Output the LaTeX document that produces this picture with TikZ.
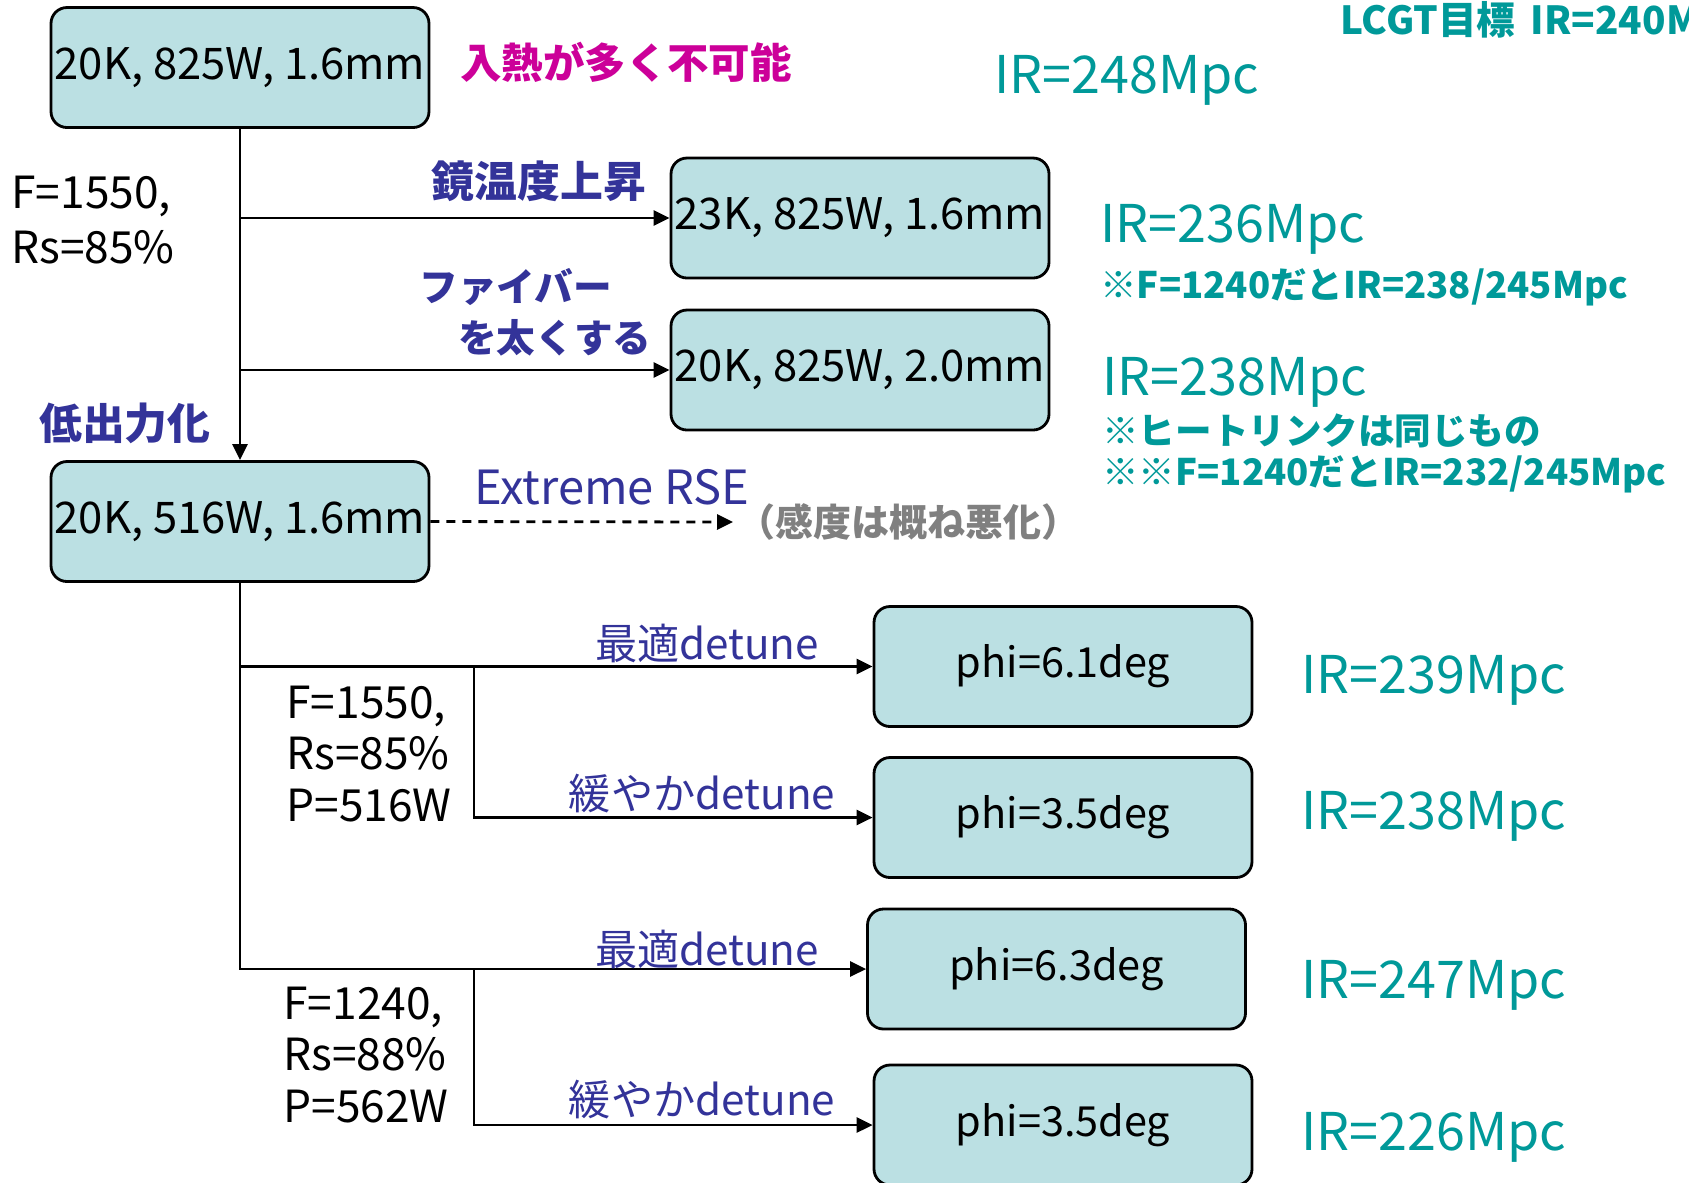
\documentclass[tikz,border=0pt]{standalone}
\usepackage{fontspec}
\setmainfont{Noto Sans CJK JP}
\usetikzlibrary{arrows.meta}

\definecolor{boxfill}{RGB}{187,224,227}
\definecolor{irteal}{RGB}{0,153,153}
\definecolor{stepblue}{RGB}{51,51,153}
\definecolor{warnpink}{RGB}{204,0,153}
\definecolor{worsegray}{RGB}{128,128,128}

\def\boxw{3.78cm}
\def\boxh{1.2cm}
\def\splitx{4.74}

\begin{document}
\begin{tikzpicture}[->,>={Triangle[length=1.6mm,width=1.5mm]},line width=0.8pt]
    \tikzstyle{box}=[draw,fill=boxfill,rounded corners=1.6mm,minimum width=\boxw,minimum height=\boxh,inner sep=0pt,font=\fontsize{12.4}{15}\selectfont]
    \tikzstyle{phibox}=[box,font=\fontsize{11.8}{14}\selectfont]
    \tikzstyle{param}=[inner sep=0pt,align=left,font=\fontsize{12.6}{14.6}\selectfont]
    \tikzstyle{how}=[inner sep=0pt,text=stepblue,font=\fontsize{12}{15}\selectfont]
    \tikzstyle{result}=[inner sep=0pt,anchor=west,yshift=-0.5mm,text=irteal,font=\fontsize{14.8}{18}\selectfont]
    \tikzstyle{remark}=[inner sep=0pt,anchor=west,text=irteal,font=\bfseries\fontsize{10.4}{13}\selectfont]

    \useasboundingbox (0,0) rectangle (16.89,-11.82);

    % Draw the boxes
    \foreach \name/\x/\y/\txt in {1/2.40/-0.675/{20K, 825W, 1.6mm},
                                  2/8.60/-2.18/{23K, 825W, 1.6mm},
                                  3/8.60/-3.70/{20K, 825W, 2.0mm},
                                  4/2.40/-5.215/{20K, 516W, 1.6mm}}
        \node[box] (B-\name) at (\x,\y) {\txt};

    \foreach \name/\x/\y/\txt in {5/10.63/-6.665/phi=6.1deg,
                                  6/10.63/-8.175/phi=3.5deg,
                                  7/10.565/-9.69/phi=6.3deg,
                                  8/10.63/-11.25/phi=3.5deg}
        \node[phibox] (B-\name) at (\x,\y) {\txt};

    % Split points of the detune branches
    \coordinate (S-1) at (\splitx,-6.665);
    \coordinate (S-2) at (\splitx,-9.69);

    % Connect the boxes
    \draw (B-1.south) -- (B-4.north);
    \draw (B-1.south |- B-2.west) -- (B-2.west);
    \draw (B-1.south |- B-3.west) -- (B-3.west);

    \draw (B-4.south) |- (B-7.west);
    \draw (B-4.south |- B-5.west) -- (B-5.west);
    \draw (S-1) |- (B-6.west);
    \draw (S-2) |- (B-8.west);

    % Extreme RSE
    \node[inner sep=1pt,anchor=west,text=worsegray,font=\bfseries\fontsize{10.8}{13}\selectfont] (worse) at (7.33,-5.22) {（感度は概ね悪化）};
    \draw[dash pattern=on 0.9mm off 0.7mm] (B-4.east) -- (worse.west);
    \node[how,font=\fontsize{13.4}{16}\selectfont] (rse) at (6.12,-4.87) {Extreme RSE};

    % Annotate the steps
    \node[inner sep=0pt,text=warnpink,font=\bfseries\fontsize{11.8}{15}\selectfont] (heat) at (6.26,-0.62) {入熱が多く不可能};
    \node[how,font=\bfseries\fontsize{12.2}{15}\selectfont] (mirror) at (5.39,-1.81) {鏡温度上昇};
    \node[how,anchor=west,align=left,font=\bfseries\fontsize{11}{14.5}\selectfont] (fiber) at (4.18,-3.12) {ファイバー\\\hspace*{1em}を太くする};
    \node[how,font=\bfseries\fontsize{12.2}{15}\selectfont] (power) at (1.25,-4.23) {低出力化};

    \node[how] (opt-1) at (7.07,-6.43) {最適detune};
    \node[how] (soft-1) at (7.02,-7.94) {緩やかdetune};
    \node[how] (opt-2) at (7.07,-9.49) {最適detune};
    \node[how] (soft-2) at (7.02,-11.00) {緩やかdetune};

    % Parameters
    \node[param,anchor=west] (par-0) at (0.10,-2.20) {F=1550,\\[1pt]Rs=85\%};
    \node[param,anchor=west] (par-1) at (2.85,-7.54) {F=1550,\\Rs=85\%\\P=516W};
    \node[param,anchor=west] (par-2) at (2.82,-10.55) {F=1240,\\Rs=88\%\\P=562W};

    % Results
    \node[remark,font=\bfseries\fontsize{11}{13}\selectfont] (goal) at (13.39,-0.22) {LCGT目標\hspace{0.4em}IR=240Mpc};
    \node[result] (IR-1) at (9.93,-0.75) {IR=248Mpc};
    \node[result] (IR-2) at (10.99,-2.24) {IR=236Mpc};
    \node[remark] (note-2) at (10.99,-2.87) {※F=1240だとIR=238/245Mpc};
    \node[result] (IR-3) at (11.01,-3.77) {IR=238Mpc};
    \node[remark] (note-3a) at (11.01,-4.31) {※ヒートリンクは同じもの};
    \node[remark] (note-3b) at (11.01,-4.74) {※※F=1240だとIR=232/245Mpc};

    \foreach \name/\y/\txt in {5/-6.75/239, 6/-8.11/238, 7/-9.80/247, 8/-11.32/226}
        \node[result] (IR-\name) at (13.0,\y) {IR=\txt Mpc};
\end{tikzpicture}
\end{document}
